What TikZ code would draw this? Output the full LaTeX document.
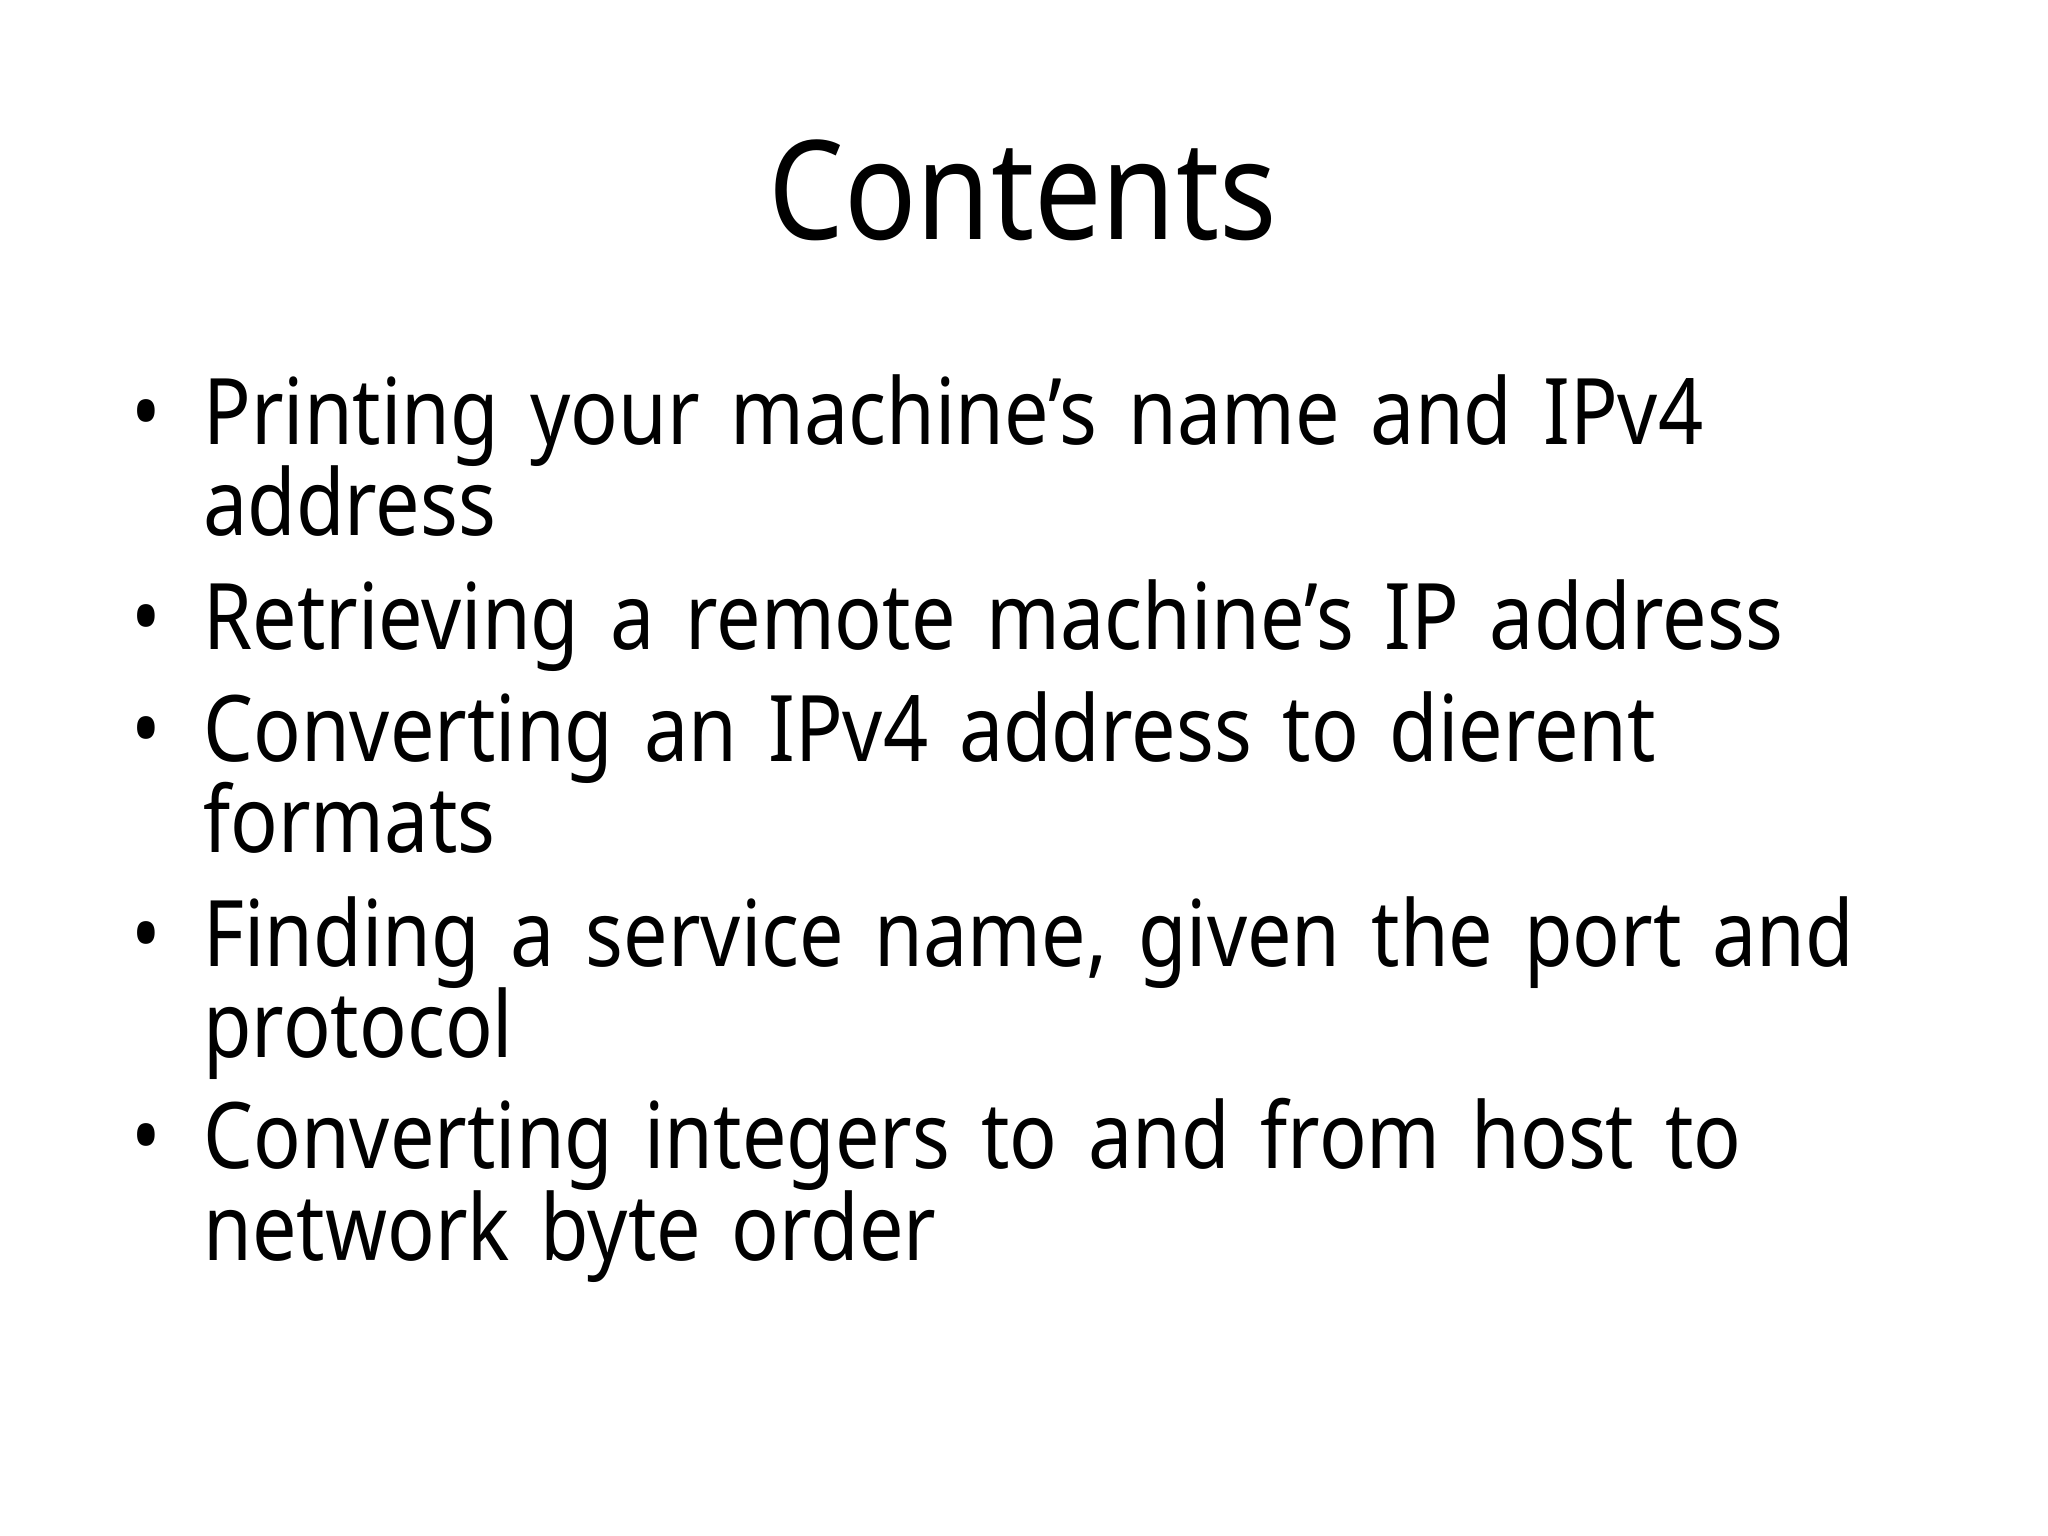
\documentclass[tikz,border=0pt]{standalone}
\usepackage{fontspec}
\setmainfont{Noto Sans}[FakeStretch=0.86,WordSpace=1.5]
\newfontfamily\titlefont{Noto Sans}[FakeStretch=0.87]
\begin{document}
\begin{tikzpicture}[x=0.01cm,y=-0.01cm,
  body/.style={anchor=base west,inner sep=0pt,font=\fontsize{20pt}{24pt}\selectfont},
  bul/.style={anchor=base,inner sep=0pt,font=\fontsize{20pt}{24pt}\selectfont}]
\useasboundingbox[fill=white] (0,0) rectangle (1568,1176);
\node[anchor=base,inner sep=0pt,font=\titlefont\fontsize{30pt}{36pt}\selectfont] (title) at (783,183) {Contents};
\foreach \y in {340,497,583,740,895} \node[bul] at (112,\y) {•};
\node[body] (l1) at (155,340) {Printing your machine\char"27 s name and IPv4};
\node[body] (l2) at (155,410) {address};
\node[body] (l3) at (155,497) {Retrieving a remote machine\char"27 s IP address};
\node[body] (l4) at (155,583) {Converting an IPv4 address to dierent};
\node[body] (l5) at (155,653) {formats};
\node[body] (l6) at (155,740) {Finding a service name, given the port and};
\node[body] (l7) at (155,810) {protocol};
\node[body] (l8) at (155,895) {Converting integers to and from host to};
\node[body] (l9) at (155,965) {network byte order};
\end{tikzpicture}
\end{document}
